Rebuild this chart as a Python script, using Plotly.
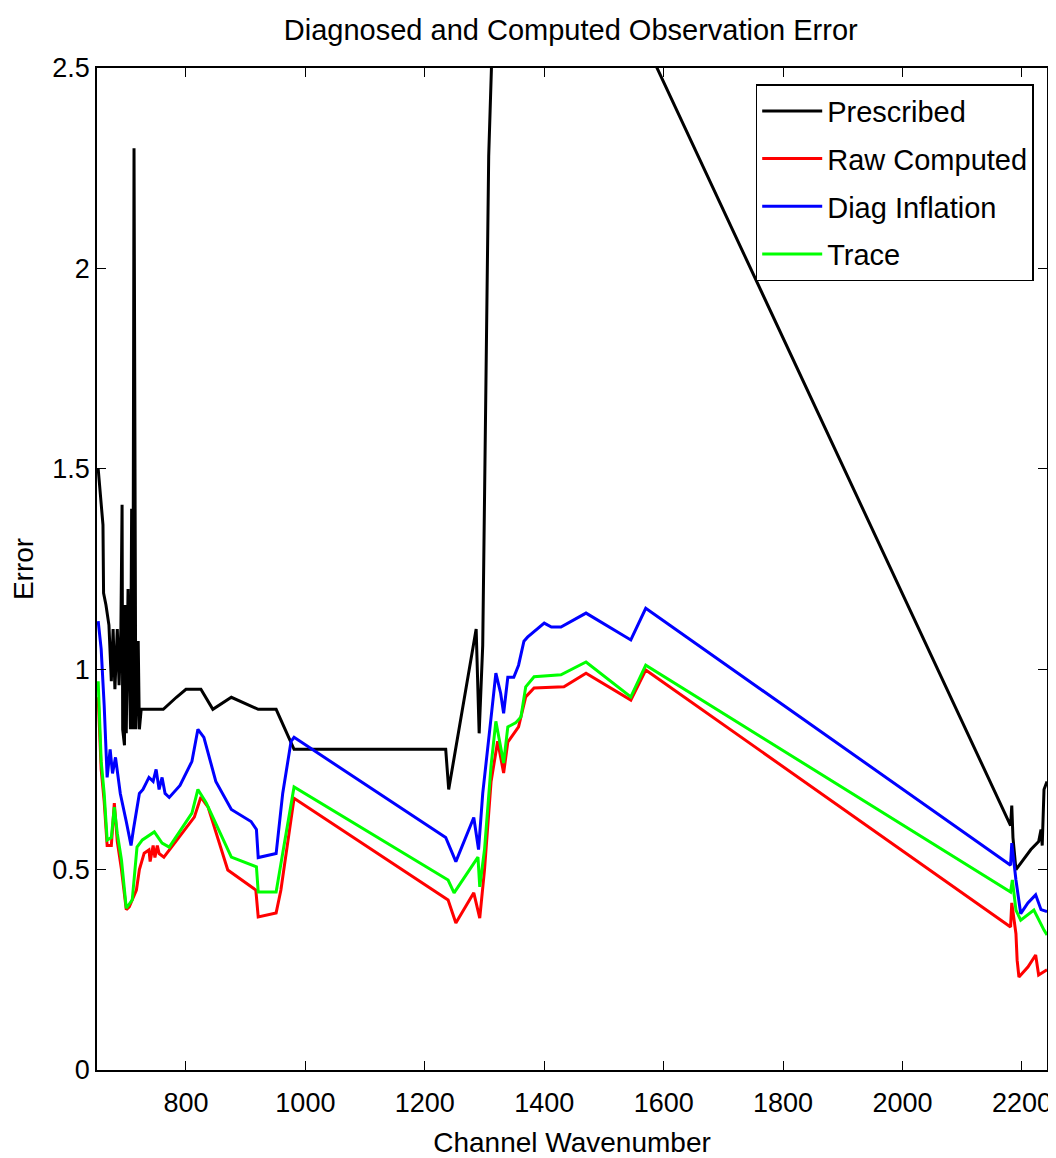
import plotly.graph_objects as go

# ---------------- data ----------------
presc_x = [653, 658, 661, 662, 666, 671, 675, 678, 681, 685, 688, 691, 693, 694, 697, 698, 700, 703, 707,
           709, 711, 713, 716, 720, 722, 725, 762, 784, 800, 825, 845, 876, 921, 951, 976, 981,
           1235, 1240, 1286, 1291, 1297, 1307, 1312, 1320, 1400, 1470, 1545, 1567,
           2181, 2183, 2185, 2190, 2200, 2215, 2228, 2232, 2234, 2237, 2242]
presc_y = [1.50, 1.40, 1.36, 1.19, 1.16, 1.11, 0.97, 1.10, 0.95, 1.10, 0.96, 1.10, 1.41, 0.85, 0.81, 1.16, 0.84, 1.20, 0.85,
           1.40, 0.85, 2.30, 0.85, 1.07, 0.85, 0.90, 0.90, 0.93, 0.95, 0.95, 0.90, 0.93, 0.90, 0.90, 0.82, 0.80,
           0.80, 0.70, 1.10, 0.84, 1.06, 2.28, 2.52, 3.20, 3.50, 3.30, 3.00, 2.57,
           0.61, 0.66, 0.58, 0.50, 0.52, 0.55, 0.57, 0.60, 0.56, 0.70, 0.72]

raw_x = [653, 658, 663, 668, 675, 680, 685, 692, 700, 705, 717, 722, 730, 738, 740, 745, 748, 752, 755,
         763, 814, 825, 837, 870, 917, 921, 951, 959, 981,
         1239, 1252, 1282, 1292, 1300, 1311, 1322, 1332, 1339, 1357, 1369, 1383, 1433, 1470, 1545, 1570,
         2181, 2183, 2190, 2192, 2195, 2210, 2223, 2228, 2242]
raw_y = [0.93, 0.75, 0.67, 0.56, 0.56, 0.666, 0.57, 0.50, 0.40, 0.407, 0.449, 0.50, 0.541, 0.549, 0.52, 0.56, 0.53, 0.56, 0.54,
         0.531, 0.631, 0.681, 0.656, 0.499, 0.449, 0.382, 0.392, 0.449, 0.678,
         0.424, 0.367, 0.442, 0.379, 0.50, 0.72, 0.82, 0.741, 0.818, 0.856, 0.931, 0.953, 0.956, 0.99, 0.923, 0.998,
         0.357, 0.417, 0.34, 0.274, 0.232, 0.257, 0.287, 0.237, 0.25]

diag_x = [653, 658, 663, 668, 673, 677, 682, 687, 690, 700, 708, 712, 717, 722, 728, 738, 745, 750, 755, 760,
          765, 772, 790, 810, 820, 830, 850, 876, 909, 918, 921, 951, 962, 976, 981,
          1235, 1252, 1282, 1290, 1297, 1311, 1319, 1327, 1332, 1339, 1349, 1357, 1366, 1372, 1400, 1412,
          1428, 1470, 1545, 1570,
          2181, 2183, 2190, 2198, 2210, 2223, 2232, 2242]
diag_y = [1.12, 1.05, 0.91, 0.73, 0.80, 0.74, 0.78, 0.72, 0.69, 0.62, 0.56, 0.60, 0.65, 0.69, 0.70, 0.73, 0.72, 0.75, 0.70, 0.73,
          0.69, 0.68, 0.71, 0.77, 0.85, 0.83, 0.72, 0.65, 0.62, 0.60, 0.53, 0.54, 0.69, 0.82, 0.83,
          0.58, 0.52, 0.63, 0.55, 0.69, 0.88, 0.99, 0.94, 0.89, 0.98, 0.98, 1.01, 1.07, 1.08, 1.115, 1.105,
          1.105, 1.14, 1.073, 1.152,
          0.511, 0.566, 0.474, 0.39, 0.417, 0.437, 0.40, 0.395]

trace_x = [653, 658, 663, 668, 675, 680, 685, 692, 700, 710, 718, 727, 747, 760, 772, 810, 820, 834,
           876, 918, 921, 951, 962, 981,
           1239, 1249, 1289, 1292, 1300, 1311, 1319, 1327, 1332, 1339, 1352, 1361, 1369, 1383, 1428,
           1470, 1545, 1570,
           2181, 2184, 2190, 2198, 2220, 2237, 2242]
trace_y = [0.97, 0.77, 0.69, 0.574, 0.58, 0.656, 0.59, 0.524, 0.404, 0.424, 0.556, 0.574, 0.594, 0.566, 0.556, 0.641, 0.70, 0.666,
           0.531, 0.507, 0.444, 0.444, 0.541, 0.706,
           0.474, 0.442, 0.531, 0.457, 0.55, 0.76, 0.87, 0.806, 0.766, 0.856, 0.866, 0.881, 0.956, 0.981, 0.986,
           1.018, 0.931, 1.01,
           0.444, 0.474, 0.399, 0.374, 0.399, 0.349, 0.337]

y_ticks = [0, 0.5, 1, 1.5, 2, 2.5]
y_tick_text = ["0", "0.5", "1", "1.5", "2", "2.5"]
x_ticks = [800, 1000, 1200, 1400, 1600, 1800, 2000, 2200]

# ---------------- figure ----------------
FONT = "Liberation Sans, Arial, sans-serif"
fig = go.Figure()
series = [
    ("Prescribed", presc_x, presc_y, "#000000"),
    ("Raw Computed", raw_x, raw_y, "#ff0000"),
    ("Diag Inflation", diag_x, diag_y, "#0000ff"),
    ("Trace", trace_x, trace_y, "#00ff00"),
]
for name, xs, ys, col in series:
    fig.add_trace(go.Scatter(x=xs, y=ys, mode="lines", name=name, legendgroup=name,
                             line=dict(color=col, width=3)))

axis_common = dict(showline=True, linecolor="black", linewidth=1.5, mirror="ticks",
                   ticks="inside", ticklen=9, tickwidth=1.2, tickcolor="black",
                   showgrid=False, zeroline=False, automargin=False,
                   tickfont=dict(family=FONT, size=27, color="black"))

fig.update_xaxes(range=[651, 2242], tickvals=x_ticks, ticklabelstandoff=8,
                 title=dict(text="Channel Wavenumber", font=dict(family=FONT, size=28, color="black"), standoff=20),
                 **axis_common)
fig.update_yaxes(range=[0, 2.5], tickvals=y_ticks, ticktext=y_tick_text,
                 title=dict(text="Error", font=dict(family=FONT, size=28, color="black"), standoff=12),
                 **axis_common)

# page body adds an 8px offset; margins compensate so the plot area lands at x 97-1047, y 68-1070
fig.update_layout(
    width=1048, height=1150,
    margin=dict(l=89, r=9, t=60, b=88, autoexpand=False),
    paper_bgcolor="white", plot_bgcolor="white",
    title=dict(text="Diagnosed and Computed Observation Error", x=0.537, xanchor="center",
               y=0.981, yanchor="middle", font=dict(family=FONT, size=29, color="black")),
    legend=dict(x=0.986, y=0.984, xanchor="right", yanchor="top",
                bgcolor="white", bordercolor="black", borderwidth=1.5,
                font=dict(family=FONT, size=29, color="black"),
                tracegroupgap=7, itemwidth=60),
    showlegend=True,
)

fig.write_html("out.html")
